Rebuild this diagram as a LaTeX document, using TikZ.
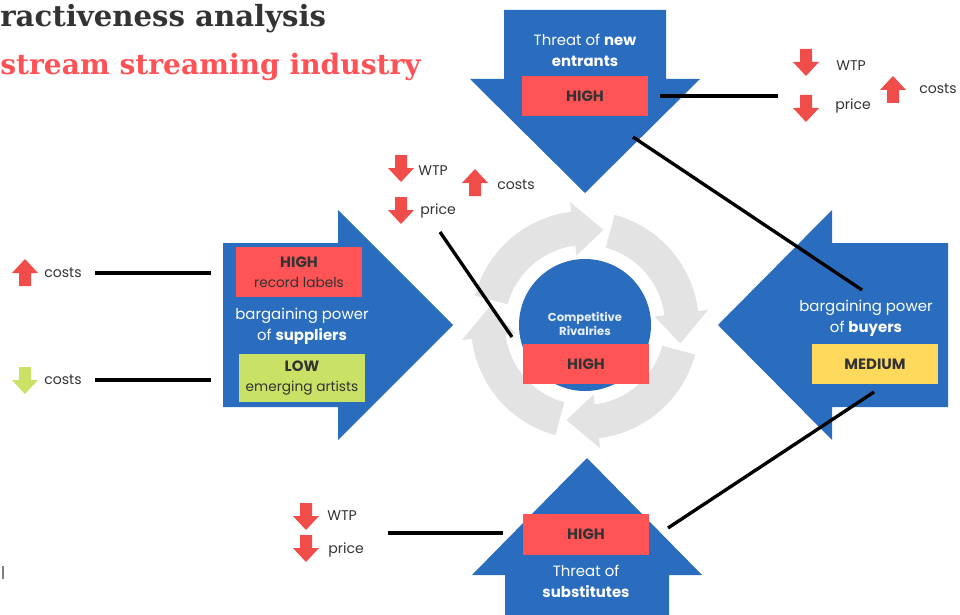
\documentclass[tikz,border=0pt]{standalone}
\usepackage{fontspec}
\setmainfont{Poppins}
\newfontfamily\slabfont{DejaVu Serif}
\usetikzlibrary{positioning,calc}
\definecolor{forceblue}{HTML}{2A6CBE}
\definecolor{boxred}{HTML}{FF5456}
\definecolor{iconred}{HTML}{EF4C4A}
\definecolor{boxyellow}{HTML}{FFD95C}
\definecolor{boxgreen}{HTML}{C9E265}
\definecolor{ringgray}{HTML}{E3E3E3}
\definecolor{txtdark}{HTML}{333333}
\definecolor{titlered}{HTML}{FF5257}
\tikzset{
  level/.style={minimum width=2.52cm, minimum height=0.82cm, inner sep=0pt,
    font=\bfseries\fontsize{8.5}{10}\selectfont, text=txtdark, align=center},
  note/.style={font=\fontsize{8}{10}\selectfont, text=txtdark, inner sep=0pt, anchor=west},
  force/.style={font=\fontsize{8.5}{12}\selectfont, text=white, align=center, inner sep=0pt},
  link/.style={line width=1.9pt},
  arrdown/.pic={\fill (-6,-13) -- (6,-13) -- (6,0) -- (13,0) -- (0,14) -- (-13,0) -- (-6,0) -- cycle;},
  arrup/.pic={\fill (-6,13) -- (6,13) -- (6,0) -- (13,0) -- (0,-14) -- (-13,0) -- (-6,0) -- cycle;}
}
\begin{document}
\begin{tikzpicture}[x=0.02cm,y=-0.02cm]
  \useasboundingbox (0,0) rectangle (960,615);
  % titles
  \node[anchor=base west, inner sep=0pt, text=txtdark, font=\slabfont\bfseries\fontsize{16.6}{17}\selectfont] (title) at (0,27) {ractiveness analysis};
  \node[anchor=base west, inner sep=0pt, text=titlered, font=\slabfont\bfseries\fontsize{16}{17}\selectfont] (subtitle) at (0,75) {stream streaming industry};
  \fill[gray] (2,566) rectangle (4,579);
  % rotating ring
  \begin{scope}[shift={(585,325)}]
    \foreach \s in {15,105,195,285}
      \fill[ringgray] (\s:114) arc[start angle=\s, end angle=\s+68, radius=114] -- (\s+68:124)
        -- (\s+86:97) -- (\s+68:70) -- (\s+68:80) arc[start angle=\s+68, end angle=\s, radius=80] -- cycle;
  \end{scope}
  % the four forces
  \fill[forceblue] (504,10) -- (666,10) -- (666,79) -- (700,79) -- (585,193) -- (470,79) -- (504,79) -- cycle;
  \fill[forceblue] (505,615) -- (669,615) -- (669,575) -- (702,575) -- (587,458) -- (472,575) -- (505,575) -- cycle;
  \fill[forceblue] (223,243) -- (338,243) -- (338,210) -- (453,325) -- (338,440) -- (338,407) -- (223,407) -- cycle;
  \fill[forceblue] (948,243) -- (832,243) -- (832,210) -- (718,325) -- (832,440) -- (832,407) -- (948,407) -- cycle;
  \fill[forceblue] (585,325) circle[radius=66];
  % labels in the forces
  \node[force] (entrants) at (585,50) {Threat of \textbf{new}\\\textbf{entrants}};
  \node[force] (suppliers) at (302,326) {bargaining power\\of \textbf{suppliers}};
  \node[force] (buyers) at (866,318) {bargaining power\\of \textbf{buyers}};
  \node[force] (substitutes) at (586,581) {Threat of\\\textbf{substitutes}};
  \node[force, font=\bfseries\fontsize{6.6}{8}\selectfont, text=white!88!forceblue] (rivalry) at (585,324) {Competitive\\Rivalries};
  % levels
  \node[level, fill=boxred] (hiN) at (585,96) {HIGH};
  \node[level, fill=boxred] (hiR) at (586,364) {HIGH};
  \node[level, fill=boxred] (hiS) at (586,534) {HIGH};
  \node[level, fill=boxyellow] (medB) at (875,364) {MEDIUM};
  \node[level, fill=boxred, minimum height=1cm] (hiL) at (299,272) {HIGH\\[1.5pt]\mdseries\fontsize{7.8}{9}\selectfont record labels};
  \node[level, fill=boxgreen, minimum height=0.98cm] (loL) at (302,378) {LOW\\[1.5pt]\mdseries\fontsize{7.8}{9}\selectfont emerging artists};
  % notes
  \pic[iconred] at (806,62) {arrdown};
  \node[note] (wtpN) at (836,66) {WTP};
  \pic[iconred] at (806,108) {arrdown};
  \node[note] (priceN) at (835,106) {price};
  \pic[iconred] at (893,90) {arrup};
  \node[note] (costN) at (919,89) {costs};
  \pic[iconred] at (401,168) {arrdown};
  \node[note] (wtpR) at (418,171) {WTP};
  \pic[iconred] at (475,183) {arrup};
  \node[note] (costR) at (497,185) {costs};
  \pic[iconred] at (401,210) {arrdown};
  \node[note] (priceR) at (420,211) {price};
  \pic[iconred] at (25,273) {arrup};
  \node[note] (costUp) at (44,273) {costs};
  \pic[boxgreen] at (25,380) {arrdown};
  \node[note] (costDown) at (44,380) {costs};
  \pic[iconred] at (306,516) {arrdown};
  \node[note] (wtpS) at (327,516) {WTP};
  \pic[iconred] at (306,548) {arrdown};
  \node[note] (priceS) at (328,550) {price};
  % connectors
  \coordinate (fromN) at (660,96);
  \coordinate (toN) at (778,96);
  \coordinate (fromNB) at (633,137);
  \coordinate (toB) at (862,290);
  \coordinate (fromUp) at (95,273);
  \coordinate (toUp) at (211,273);
  \coordinate (fromDown) at (95,380);
  \coordinate (toDown) at (211,380);
  \coordinate (toR) at (440,232);
  \coordinate (fromR) at (512,337);
  \coordinate (fromS) at (503,533);
  \coordinate (toS) at (388,533);
  \coordinate (fromSB) at (668,528);
  \coordinate (fromB) at (874,392);
  \draw[link] (fromN) -- (toN);
  \draw[link] (fromNB) -- (toB);
  \draw[link] (fromUp) -- (toUp);
  \draw[link] (fromDown) -- (toDown);
  \draw[link] (toR) -- (fromR);
  \draw[link] (fromS) -- (toS);
  \draw[link] (fromSB) -- (fromB);
\end{tikzpicture}
\end{document}
